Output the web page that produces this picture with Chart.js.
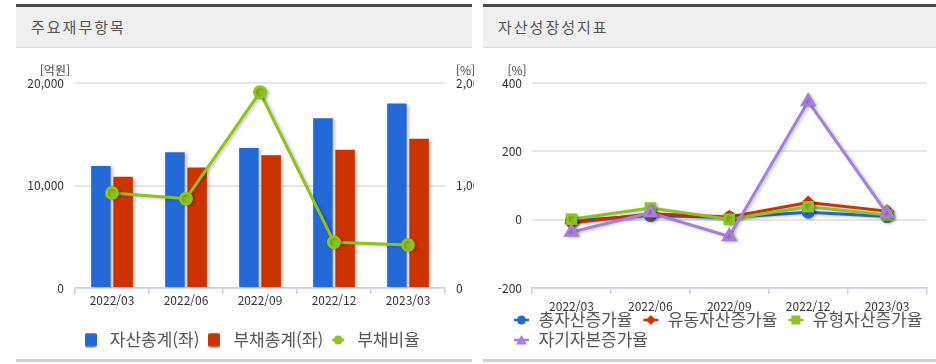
<!DOCTYPE html>
<html lang="ko">
<head>
<meta charset="utf-8">
<script src="https://cdn.jsdelivr.net/npm/chart.js@4"></script>
<style>
  body { margin: 0; background: #fff; width: 936px; height: 364px; position: relative; overflow: hidden;
         font-family: 'Noto Sans CJK KR', 'Noto Sans', sans-serif; }
  .panel { position: absolute; top: 4px; height: 352px; border-top: 3px solid #4a4a4a; border-bottom: 3px solid #d2d2d2; }
  .panel .head { height: 40px; line-height: 40px; background: #efefef; border-bottom: 1px solid #dcdcdc;
                 padding-left: 15px; font-size: 15px; color: #555; letter-spacing: 2px; }
  .box { position: absolute; top: 50px; height: 330px; overflow: hidden; }
</style>
</head>
<body>
<div class="panel" style="left:16px;width:456px"><div class="head">주요재무항목</div></div>
<div class="panel" style="left:483px;width:453px"><div class="head">자산성장성지표</div></div>
<div class="box" style="left:16px;width:458px"><canvas id="finChart"></canvas></div>
<div class="box" style="left:483px;width:453px"><canvas id="growthChart"></canvas></div>
<script>
const categories = ['2022/03', '2022/06', '2022/09', '2022/12', '2023/03'];

// 주요재무항목 (억원, %)
const totalAssets = [11900, 13250, 13650, 16550, 18000];
const totalLiabilities = [10850, 11750, 12950, 13500, 14550];
const debtRatio = [927, 871, 1910, 446, 420];
const finTicks = [0, 10000, 20000];
const ratioTicks = [0, 1000, 2000];

// 자산성장성지표 (%)
const assetGrowth = [-3, 12, 6, 22, 9];
const currentAssetGrowth = [-10, 17, 8, 50, 25];
const tangibleAssetGrowth = [1, 34, 1, 38, 14];
const equityGrowth = [-36, 20, -49, 346, 18];
const growthTicks = [-200, 0, 200, 400];

const BLUE = '#236ad8';
const RED = '#cc3300';
const GREEN = '#8dc21f';
const PURPLE = '#a67fdc';
const FONT = "'Noto Sans CJK KR', 'Noto Sans', sans-serif";
const PLOT_BOTTOM = 238; // canvas y of the x axis

// legend icons
function icon(w, h, draw) {
    const c = document.createElement('canvas');
    c.width = w; c.height = h;
    draw(c.getContext('2d'), w, h);
    return c;
}
function boxIcon(color) {
    return icon(12, 15, (g, w, h) => {
        g.fillStyle = color;
        g.beginPath();
        g.roundRect(0, 0.5, w, h - 1, 2);
        g.fill();
    });
}
function lineIcon(color, marker, w, x0) {
    return icon(w, 12, (g, w, h) => {
        const cx = (x0 + w) / 2, cy = h / 2;
        g.strokeStyle = color; g.fillStyle = color; g.lineWidth = 2.5;
        g.beginPath(); g.moveTo(x0 + 1, cy); g.lineTo(w - 1, cy); g.stroke();
        g.beginPath();
        if (marker === 'circle') g.arc(cx, cy, 4.5, 0, Math.PI * 2);
        if (marker === 'diamond') { g.moveTo(cx, cy - 5); g.lineTo(cx + 5, cy); g.lineTo(cx, cy + 5); g.lineTo(cx - 5, cy); }
        if (marker === 'square') g.rect(cx - 4.5, cy - 4.5, 9, 9);
        if (marker === 'triangle') { g.moveTo(cx, cy - 5); g.lineTo(cx + 5.5, cy + 4.5); g.lineTo(cx - 5.5, cy + 4.5); }
        g.fill();
    });
}

const shadow = {
    id: 'shadow',
    beforeDatasetsDraw(chart) {
        const c = chart.ctx;
        c.save();
        c.shadowColor = 'rgba(0,0,0,0.22)';
        c.shadowBlur = 3;
        c.shadowOffsetX = 2;
        c.shadowOffsetY = 1;
    },
    afterDatasetsDraw(chart) { chart.ctx.restore(); }
};

const units = {
    id: 'units',
    afterDraw(chart, args, opts) {
        const c = chart.ctx;
        c.save();
        c.font = '12px ' + FONT;
        c.fillStyle = '#444';
        c.textBaseline = 'middle';
        opts.items.forEach(u => {
            const s = chart.scales[u.scale];
            c.textAlign = u.align;
            c.fillText(u.text, u.side === 'left' ? s.right - u.dx : s.left + u.dx, chart.chartArea.top - 13);
        });
        c.restore();
    }
};

// move the legend after layout
const legendPos = {
    id: 'legendPos',
    afterLayout(chart, args, opts) {
        const l = chart.legend;
        const h = l.height;
        l.top = opts.top; l.bottom = opts.top + h;
        l.left += opts.dx; l.right += opts.dx;
    }
};

const tickFont = { family: FONT, size: 12 };
const xAxis = (pad) => ({
    offset: true,
    grid: { display: true, drawOnChartArea: false, drawTicks: true, tickLength: 6, color: '#c5d2e0', lineWidth: 1.5, offset: true },
    border: { display: true, color: '#c5d2e0', width: 1.5 },
    ticks: { color: '#333', font: tickFont, padding: pad, maxRotation: 0 },
    afterFit(s) { s.height = s.chart.height - PLOT_BOTTOM - s.chart.legend.height; }
});
const legendFont = { family: FONT, size: 17 };

new Chart(document.getElementById('finChart'), {
    type: 'bar',
    data: {
        labels: categories,
        datasets: [{
            label: '자산총계(좌)',
            data: totalAssets,
            backgroundColor: BLUE,
            yAxisID: 'y',
            order: 1,
            categoryPercentage: 0.6,
            barPercentage: 0.88
        }, {
            label: '부채총계(좌)',
            data: totalLiabilities,
            backgroundColor: RED,
            yAxisID: 'y',
            order: 1,
            categoryPercentage: 0.6,
            barPercentage: 0.88
        }, {
            type: 'line',
            label: '부채비율',
            data: debtRatio,
            borderColor: GREEN,
            backgroundColor: GREEN,
            borderWidth: 3,
            pointRadius: 5.5,
            pointHoverRadius: 5.5,
            yAxisID: 'y1',
            order: 0
        }]
    },
    options: {
        responsive: true,
        maintainAspectRatio: false,
        animation: false,
        layout: { padding: { top: 33, right: 0, bottom: 0, left: 0 } },
        scales: {
            x: xAxis(-1),
            y: {
                min: finTicks[0], max: finTicks[finTicks.length - 1],
                afterBuildTicks(s) { s.ticks = finTicks.map(v => ({ value: v })); },
                grid: { color: '#e6e6e6', lineWidth: 2, drawTicks: false },
                border: { display: false },
                ticks: { color: '#333', font: tickFont, padding: 11, callback: v => v.toLocaleString('en-US') },
                afterFit(s) { s.width = 59; }
            },
            y1: {
                position: 'right',
                min: ratioTicks[0], max: ratioTicks[ratioTicks.length - 1],
                afterBuildTicks(s) { s.ticks = ratioTicks.map(v => ({ value: v })); },
                grid: { drawOnChartArea: false, drawTicks: false },
                border: { display: false },
                ticks: { color: '#333', font: tickFont, padding: 11, callback: v => v.toLocaleString('en-US') },
                afterFit(s) { s.width = 29; }
            }
        },
        plugins: {
            legend: {
                position: 'bottom',
                labels: {
                    usePointStyle: true,
                    pointStyleWidth: 21,
                    padding: 4.5,
                    color: '#555',
                    font: legendFont,
                    sort: (a, b) => a.datasetIndex - b.datasetIndex,
                    generateLabels(chart) {
                        const items = Chart.defaults.plugins.legend.labels.generateLabels(chart);
                        const icons = [boxIcon(BLUE), boxIcon(RED), lineIcon(GREEN, 'circle', 14, 0)];
                        items.forEach(it => { it.pointStyle = icons[it.datasetIndex]; });
                        return items;
                    }
                }
            },
            legendPos: { top: 277, dx: 5 },
            tooltip: { enabled: false },
            units: { items: [
                { scale: 'y', side: 'left', dx: 5, align: 'right', text: '[억원]' },
                { scale: 'y1', side: 'right', dx: 11, align: 'left', text: '[%]' }
            ] }
        }
    },
    plugins: [shadow, units, legendPos]
});

function growthSet(label, data, color, style, radius, order) {
    return {
        label, data, order,
        borderColor: color,
        backgroundColor: color,
        borderWidth: 3,
        pointStyle: style,
        pointRadius: radius,
        pointHoverRadius: radius
    };
}

new Chart(document.getElementById('growthChart'), {
    type: 'line',
    data: {
        labels: categories,
        datasets: [
            growthSet('총자산증가율', assetGrowth, BLUE, 'circle', 5, 3),
            growthSet('유동자산증가율', currentAssetGrowth, RED, 'rectRot', 5, 2),
            growthSet('유형자산증가율', tangibleAssetGrowth, GREEN, 'rect', 6, 1),
            growthSet('자기자본증가율', equityGrowth, PURPLE, 'triangle', 6.5, 0)
        ]
    },
    options: {
        responsive: true,
        maintainAspectRatio: false,
        animation: false,
        layout: { padding: { top: 33, right: 9, bottom: 0, left: 12 } },
        scales: {
            x: xAxis(5),
            y: {
                min: growthTicks[0], max: growthTicks[growthTicks.length - 1],
                afterBuildTicks(s) { s.ticks = growthTicks.map(v => ({ value: v })); },
                grid: { color: '#e6e6e6', lineWidth: 2, drawTicks: false },
                border: { display: false },
                ticks: { color: '#333', font: tickFont, padding: 10 },
                afterFit(s) { s.width = 37; }
            }
        },
        plugins: {
            legend: {
                position: 'bottom',
                align: 'start',
                labels: {
                    usePointStyle: true,
                    pointStyleWidth: 24,
                    padding: 3,
                    color: '#555',
                    font: legendFont,
                    sort: (a, b) => a.datasetIndex - b.datasetIndex,
                    generateLabels(chart) {
                        const items = Chart.defaults.plugins.legend.labels.generateLabels(chart);
                        const icons = [lineIcon(BLUE, 'circle', 24, 7), lineIcon(RED, 'diamond', 24, 7),
                                       lineIcon(GREEN, 'square', 24, 7), lineIcon(PURPLE, 'triangle', 24, 7)];
                        items.forEach(it => { it.pointStyle = icons[it.datasetIndex]; });
                        return items;
                    }
                }
            },
            legendPos: { top: 258.5, dx: 8 },
            tooltip: { enabled: false },
            units: { items: [
                { scale: 'y', side: 'left', dx: 15, align: 'center', text: '[%]' }
            ] }
        }
    },
    plugins: [shadow, units, legendPos]
});
</script>
</body>
</html>
